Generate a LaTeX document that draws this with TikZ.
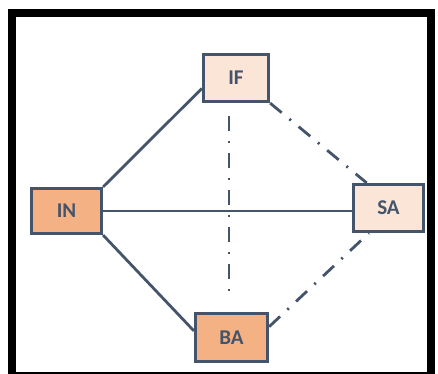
\documentclass[tikz,border=0pt]{standalone}
\usepackage{fontspec}
\setmainfont{Carlito}
\definecolor{edgecol}{HTML}{44546A}
\definecolor{darkfill}{HTML}{F4B183}
\definecolor{lightfill}{HTML}{FBE5D6}
\begin{document}
\begin{tikzpicture}[x=1pt,y=-1pt,
  box/.style={draw=edgecol, line width=3.2pt, inner sep=0pt, text=edgecol,
    font=\fontsize{21}{21}\selectfont\bfseries},
  darkbox/.style={box, fill=darkfill},
  lightbox/.style={box, fill=lightfill},
  solidlink/.style={draw=edgecol, line width=2.8pt},
  dashlink/.style={draw=edgecol, line width=2.8pt, dash pattern=on 15pt off 10pt on 2pt off 10pt}]
\useasboundingbox (0,0) rectangle (438,373);
\clip (0,0) rectangle (438,373);
\fill[white] (0,0) rectangle (438,373);
\draw[line width=8pt, black] (12,13) rectangle (431,376);
\node[lightbox, minimum width=65pt, minimum height=47pt] (IF) at (236,78) {IF};
\node[darkbox, minimum width=70pt, minimum height=45pt] (IN) at (66.5,211) {IN};
\node[lightbox, minimum width=70pt, minimum height=47pt] (SA) at (388.5,208) {SA};
\node[darkbox, minimum width=72pt, minimum height=48pt] (BA) at (231.5,337.5) {BA};
\draw[solidlink] (IN.north east) -- (IF.197);
\draw[solidlink] (IN.east) -- (IN.east -| SA.west);
\draw[solidlink] (IN.south east) -- (BA.170);
\draw[dashlink] (IF.south east) -- (SA.131);
\draw[dashlink] (BA.16) -- (SA.232);
\draw[dashlink, shorten <=13pt, shorten >=12pt] ([xshift=-7pt]IF.south) -- ([xshift=-7pt]IF.south |- BA.north);
\end{tikzpicture}
\end{document}
